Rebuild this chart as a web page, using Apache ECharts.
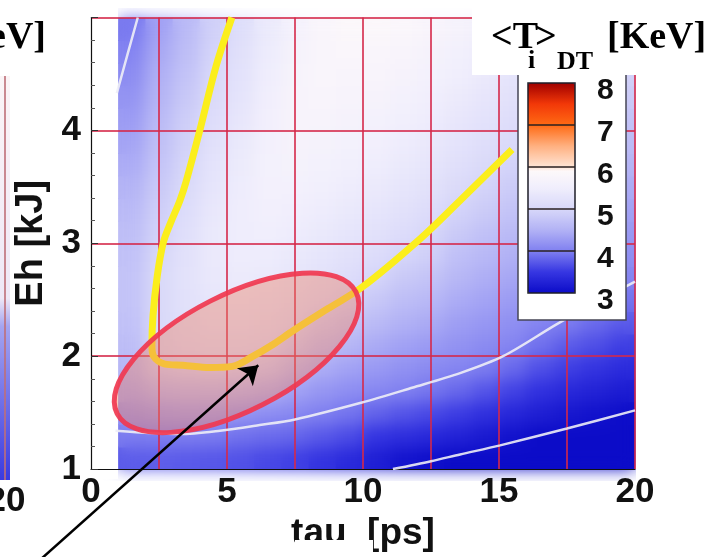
<!DOCTYPE html>
<html><head><meta charset="utf-8">
<script src="https://cdn.jsdelivr.net/npm/echarts@6/dist/echarts.min.js"></script>
<style>html,body{margin:0;padding:0;background:#fff}#c{width:710px;height:557px}</style>
</head><body><div id="c"></div>
<script>
// ---- data ----
const tauCells = [1.5,2.5,3.5,4.5,5.5,6.5,7.5,8.5,9.5,10.5,11.5,12.5,13.5,14.5,15.5,16.5,17.5,18.5,19.5];
const ehCells = [1.1,1.3,1.5,1.7,1.9,2.1,2.3,2.5,2.7,2.9,3.1,3.3,3.5,3.7,3.9,4.1,4.3,4.5,4.7,4.9];
// <Ti>DT [keV], one row per Eh cell, one value per tau cell
const tempRows = [
 [3.76,3.77,3.74,3.72,3.68,3.62,3.57,3.47,3.36,3.23,3.10,3.04,2.98,2.90,2.84,2.74,2.68,2.62,2.56],
 [3.97,3.98,3.97,3.96,3.90,3.86,3.82,3.73,3.64,3.48,3.40,3.34,3.26,3.16,3.08,3.00,2.93,2.86,2.79],
 [4.20,4.27,4.30,4.29,4.22,4.14,4.08,4.00,3.92,3.80,3.70,3.63,3.54,3.43,3.33,3.22,3.14,3.08,3.02],
 [4.42,4.58,4.62,4.63,4.58,4.48,4.34,4.22,4.14,4.07,4.01,3.93,3.83,3.70,3.58,3.44,3.35,3.27,3.20],
 [4.56,4.89,4.95,4.97,4.95,4.83,4.60,4.44,4.34,4.25,4.17,4.10,4.05,3.97,3.84,3.67,3.56,3.47,3.38],
 [4.65,5.00,5.10,5.13,5.13,5.08,4.87,4.67,4.55,4.42,4.33,4.26,4.18,4.11,4.04,3.89,3.76,3.66,3.56],
 [4.70,5.02,5.17,5.24,5.25,5.20,5.08,4.89,4.75,4.60,4.49,4.42,4.30,4.23,4.15,4.05,3.97,3.86,3.74],
 [4.72,5.03,5.21,5.32,5.34,5.30,5.20,5.08,4.95,4.78,4.65,4.58,4.43,4.35,4.27,4.16,4.09,4.03,3.92],
 [4.72,5.02,5.22,5.37,5.41,5.38,5.30,5.20,5.10,4.95,4.80,4.73,4.56,4.46,4.38,4.27,4.19,4.13,4.05],
 [4.70,4.99,5.20,5.39,5.45,5.45,5.38,5.30,5.20,5.10,4.96,4.88,4.68,4.58,4.49,4.39,4.30,4.23,4.15],
 [4.66,4.93,5.16,5.38,5.48,5.50,5.45,5.38,5.30,5.20,5.10,4.97,4.81,4.70,4.60,4.50,4.40,4.33,4.25],
 [4.60,4.87,5.11,5.35,5.48,5.55,5.52,5.46,5.38,5.30,5.20,5.10,4.94,4.82,4.72,4.61,4.51,4.43,4.34],
 [4.52,4.80,5.05,5.30,5.46,5.58,5.58,5.53,5.46,5.39,5.30,5.20,5.06,4.94,4.83,4.72,4.61,4.53,4.44],
 [4.44,4.74,4.98,5.24,5.42,5.60,5.63,5.59,5.53,5.47,5.38,5.29,5.16,5.05,4.94,4.83,4.71,4.63,4.54],
 [4.36,4.67,4.92,5.18,5.38,5.58,5.67,5.65,5.60,5.54,5.46,5.37,5.25,5.14,5.04,4.94,4.82,4.73,4.63],
 [4.28,4.60,4.86,5.12,5.33,5.55,5.70,5.70,5.66,5.61,5.53,5.45,5.33,5.23,5.12,5.04,4.92,4.83,4.72],
 [4.20,4.53,4.79,5.06,5.28,5.52,5.70,5.74,5.71,5.67,5.60,5.52,5.41,5.31,5.20,5.12,5.03,4.93,4.82],
 [4.12,4.47,4.72,5.00,5.23,5.48,5.68,5.77,5.76,5.73,5.67,5.59,5.49,5.39,5.27,5.19,5.10,5.02,4.91],
 [4.04,4.40,4.66,4.95,5.18,5.44,5.65,5.78,5.80,5.78,5.73,5.66,5.57,5.46,5.34,5.26,5.17,5.09,5.00],
 [3.96,4.33,4.60,4.90,5.13,5.40,5.62,5.77,5.83,5.83,5.80,5.73,5.64,5.53,5.41,5.32,5.23,5.15,5.07]
];
// contour lines [tau, Eh]
const yellowContour5 = [[5.18,5.0],[4.6,4.57],[4.0,4.0],[3.5,3.55],[3.27,3.38],[2.94,3.19],[2.65,3.0],[2.43,2.7],[2.28,2.36],[2.24,2.1],[2.3,2.0],[2.72,1.93],[3.38,1.92],[4.37,1.9],[5.2,1.91],[5.96,2.0],[6.6,2.09],[7.46,2.23],[8.7,2.42],[9.96,2.61],[12.1,3.04],[13.57,3.38],[15.48,3.83]];
const whiteContour4 = [[0.9,1.34],[2.17,1.32],[3.27,1.31],[4.74,1.34],[6.2,1.39],[7.5,1.44],[9.96,1.59],[11.8,1.72],[13.57,1.85],[15.15,2.0],[17.24,2.3],[20,2.66]];
const whiteContour4Top = [[0.95,4.33],[1.35,4.68],[1.72,5.0]];
const whiteContour3 = [[11.1,1.0],[12.5,1.07],[13.57,1.13],[15.04,1.21],[17.5,1.36],[20,1.52]];
const contourLabelPos = [[3.5,3.55],[11.07,2.84],[3.64,1.98],[6.2,1.37],[17.5,2.3],[13.1,1.1]];
const contourLabelText = ['5','5','5','4','4','3'];
const ellipseCenter = [5.35, 2.03];
const arrowCoords = [[-1.9,0.19],[6.15,1.92]];
const colorbarTicks = [3,4,5,6,7,8];

// ---- colour scale ----
const cmapStops = [[3.0,'#0c0cc8'],[3.5,'#3636e2'],[4.0,'#8080f0'],[4.5,'#b2b2f5'],[5.0,'#d8d8f9'],[5.5,'#f0eefc'],[5.9,'#fdf8fa'],[6.0,'#ffe4d4'],[6.5,'#ffb080'],[7.0,'#ff6a14'],[7.5,'#f23808'],[8.0,'#a00000']];
function hex2rgb(h){return [parseInt(h.substr(1,2),16),parseInt(h.substr(3,2),16),parseInt(h.substr(5,2),16)];}
function cmap(v){
  if (v<=cmapStops[0][0]) return cmapStops[0][1];
  for (let k=1;k<cmapStops.length;k++){
    if (v<=cmapStops[k][0]){
      const a=cmapStops[k-1], b=cmapStops[k], f=(v-a[0])/(b[0]-a[0]);
      const ca=hex2rgb(a[1]), cb=hex2rgb(b[1]);
      return 'rgb('+ca.map((c,i)=>Math.round(c+(cb[i]-c)*f)).join(',')+')';
    }
  }
  return cmapStops[cmapStops.length-1][1];
}
const vmColors=[]; for(let k=0;k<=100;k++) vmColors.push(cmap(3+k*0.05));

const heatData=[];
ehCells.forEach((eh,j)=>tauCells.forEach((tau,i)=>heatData.push([tau,eh,tempRows[j][i]])));
const dTau=tauCells[1]-tauCells[0], dEh=ehCells[1]-ehCells[0];

const sansBold='"Liberation Sans", Arial, Helvetica, sans-serif';
const serif='"Liberation Serif", "Times New Roman", serif';
const labelStyles=[
 {rotate:75,color:'#262636'},
 {rotate:45,color:'#262636'},
 {rotate:0,color:'#262636'},
 {rotate:0,color:'#111',backgroundColor:'#ffffff',padding:[1,3]},
 {rotate:30,color:'#111',backgroundColor:'#ffffff',padding:[1,3]},
 {rotate:15,color:'#ffffff',textBorderColor:'#203070',textBorderWidth:2,backgroundColor:'rgba(255,255,255,0.55)',padding:[0,2]}
];
const gridRed={color:'rgba(212,40,74,0.8)',width:2};
const whiteLine={color:'rgba(238,238,246,0.9)',width:2.5};
const TOP=2; // zlevel for everything drawn above the heat map

function heatRender(params,api){
  const t=api.value(0),e=api.value(1);
  const p0=api.coord([t-dTau/2,e+dEh/2]), p1=api.coord([t+dTau/2,e-dEh/2]);
  return {type:'rect',shape:{x:p0[0],y:p0[1],width:p1[0]-p0[0]+1,height:p1[1]-p0[1]+1},style:{fill:api.visual('color')}};
}

const chart=echarts.init(document.getElementById('c'));
chart.setOption({
 animation:false,
 grid:[{left:91,top:8,width:544,height:472,show:false,zlevel:TOP},
       {left:528,top:83,width:47,height:210,show:true,borderColor:'#1e1e28',borderWidth:1.5,backgroundColor:'transparent',z:12,zlevel:TOP}],
 xAxis:[{type:'value',gridIndex:0,min:0,max:20,interval:2.5,z:2,zlevel:TOP,
   axisLine:{show:true,onZero:false,lineStyle:{color:'#111',width:1.2}},
   axisTick:{show:false},
   axisLabel:{formatter:v=>v%5===0?String(v):'',fontSize:35,fontWeight:'bold',color:'#111',margin:6,fontFamily:sansBold},
   splitLine:{show:true,showMinLine:false,lineStyle:gridRed},
   name:'tau  [ps]',nameLocation:'middle',nameGap:34,
   nameTextStyle:{fontSize:37,fontWeight:'bold',color:'#111',fontFamily:sansBold}},
  {type:'value',gridIndex:1,show:false,min:0,max:1,zlevel:TOP}],
 yAxis:[{type:'value',gridIndex:0,min:1,max:5,interval:1,z:2,zlevel:TOP,
   axisLine:{show:true,onZero:false,lineStyle:{color:'#111',width:1.2}},
   axisTick:{show:true,inside:true,length:7,lineStyle:{color:'#333'}},
   minorTick:{show:true,splitNumber:5,length:4,lineStyle:{color:'#555'}},
   axisLabel:{fontSize:35,fontWeight:'bold',color:'#111',margin:10,fontFamily:sansBold},
   splitLine:{show:true,showMinLine:false,lineStyle:gridRed},
   name:'Eh [kJ]',nameLocation:'middle',nameRotate:90,nameGap:40,
   nameTextStyle:{fontSize:38,fontWeight:'bold',color:'#111',fontFamily:sansBold}},
  {type:'value',gridIndex:1,min:3,max:8,interval:1,position:'right',z:12,zlevel:TOP,
   axisLine:{show:false},axisTick:{show:false},
   axisLabel:{fontSize:30,fontWeight:'bold',color:'#111',margin:22,verticalAlign:'top',lineHeight:16,fontFamily:sansBold,
     formatter:v=>colorbarTicks.indexOf(v)>=0?String(v):''},
   splitLine:{show:true,showMinLine:false,showMaxLine:false,lineStyle:{color:'#2a2020',width:1.5}}}],
 visualMap:{type:'continuous',min:3,max:8,dimension:2,seriesIndex:[0,1],calculable:false,hoverLink:false,
   inRange:{color:vmColors},outOfRange:{color:'#0c0cc8'},
   show:true,left:528,top:83,itemWidth:47,itemHeight:210,padding:0,z:11,zlevel:TOP,textStyle:{fontSize:1,color:'transparent'}},
 series:[
  {type:'custom',name:'Ti',zlevel:0,z:1,clip:true,silent:true,data:heatData,dimensions:['tau','eh','T'],encode:{x:0,y:1},renderItem:heatRender},
  {type:'custom',name:'Ti-soft',zlevel:1,z:1,clip:true,silent:true,data:heatData,dimensions:['tau','eh','T'],encode:{x:0,y:1},renderItem:heatRender},
  {type:'line',zlevel:TOP,z:3,silent:true,data:whiteContour4,symbol:'none',smooth:0.3,lineStyle:whiteLine},
  {type:'line',zlevel:TOP,z:3,silent:true,data:whiteContour4Top,symbol:'none',smooth:0.3,lineStyle:whiteLine},
  {type:'line',zlevel:TOP,z:3,silent:true,data:whiteContour3,symbol:'none',smooth:0.3,lineStyle:whiteLine},
  {type:'line',zlevel:TOP,z:4,silent:true,data:yellowContour5,symbol:'none',smooth:0.35,lineStyle:{color:'#fbee1c',width:7}},
  {type:'scatter',zlevel:TOP,z:5,silent:true,symbolSize:1,itemStyle:{opacity:0},
   data:contourLabelPos.map((p,k)=>({value:p,label:labelStyles[k]})),
   label:{show:true,position:'inside',fontSize:24,fontWeight:'bold',fontFamily:sansBold,
     formatter:p=>contourLabelText[p.dataIndex]}},
  {type:'custom',zlevel:TOP,z:6,silent:true,data:[ellipseCenter],
   renderItem:(params,api)=>{
     const c=api.coord([api.value(0),api.value(1)]);
     return {type:'ellipse',x:c[0],y:c[1],rotation:27*Math.PI/180,shape:{cx:0,cy:0,rx:134,ry:58},
       style:{fill:'rgba(235,128,100,0.42)',stroke:'rgba(240,56,80,0.92)',lineWidth:5}};
   }},
  {type:'lines',coordinateSystem:'cartesian2d',zlevel:TOP,z:7,silent:true,clip:false,
   symbol:['none','arrow'],symbolSize:18,
   lineStyle:{color:'#000',width:2.5,opacity:1,curveness:0},
   data:[{coords:arrowCoords}]}
 ],
 graphic:[
  // white masks around the softened heat-map layer
  {type:'rect',zlevel:TOP,z:0,shape:{x:92,y:0,width:26,height:479},style:{fill:'#fff'}},
  {type:'rect',zlevel:TOP,z:0,shape:{x:92,y:0,width:560,height:8},style:{fill:'#fff'}},
  {type:'rect',zlevel:TOP,z:0,shape:{x:92,y:481,width:560,height:20},style:{fill:'#fff'}},
  {type:'rect',zlevel:TOP,z:0,shape:{x:636,y:0,width:20,height:500},style:{fill:'#fff'}},
  // neighbouring panel fragments
  {type:'rect',zlevel:TOP,z:1,shape:{x:0,y:76,width:10,height:404},style:{fill:new echarts.graphic.LinearGradient(0,0,0,1,[{offset:0,color:'#fbf4f6'},{offset:0.55,color:'#eee8f6'},{offset:0.62,color:'#a4a4f0'},{offset:1,color:'#3a3ae0'}])}},
  {type:'line',zlevel:TOP,z:2,shape:{x1:5,y1:76,x2:5,y2:480},style:{stroke:'rgba(190,110,120,0.8)',lineWidth:2}},
  {type:'text',zlevel:TOP,z:2,x:6,y:501,style:{text:'20',font:'bold 35px '+sansBold,fill:'#111',textAlign:'center',textVerticalAlign:'middle',align:'center',verticalAlign:'middle'}},
  // colour-bar frame
  {type:'rect',zlevel:TOP,z:10,shape:{x:518,y:55,width:108,height:265},style:{fill:'#fff',stroke:'#454556',lineWidth:1.5}},
  // title boxes
  {type:'rect',zlevel:TOP,z:20,shape:{x:0,y:0,width:83,height:75},style:{fill:'#fff'}},
  {type:'text',zlevel:TOP,z:21,x:46,y:38,style:{text:'eV]',font:'bold 38px '+serif,fill:'#000',textAlign:'right',textVerticalAlign:'middle',align:'right',verticalAlign:'middle'}},
  {type:'rect',zlevel:TOP,z:20,shape:{x:472,y:0,width:238,height:75},style:{fill:'#fff'}},
  {type:'text',zlevel:TOP,z:21,x:491,y:38,style:{text:'<T',font:'bold 38px '+serif,fill:'#000',textVerticalAlign:'middle',verticalAlign:'middle'}},
  {type:'text',zlevel:TOP,z:21,x:528,y:61,style:{text:'i',font:'bold 26px '+serif,fill:'#000',textVerticalAlign:'middle',verticalAlign:'middle'}},
  {type:'text',zlevel:TOP,z:21,x:535,y:38,style:{text:'>',font:'bold 38px '+serif,fill:'#000',textVerticalAlign:'middle',verticalAlign:'middle'}},
  {type:'text',zlevel:TOP,z:21,x:557,y:62,style:{text:'DT',font:'bold 26px '+serif,fill:'#000',textVerticalAlign:'middle',verticalAlign:'middle'}},
  {type:'text',zlevel:TOP,z:21,x:607,y:38,style:{text:'[KeV]',font:'bold 38px '+serif,fill:'#000',textVerticalAlign:'middle',verticalAlign:'middle'}},
  {type:'rect',zlevel:TOP,z:20,shape:{x:295,y:540,width:78,height:17},style:{fill:'#fff'}}
 ]
});
function softenHeat(){
  const layer=chart.getZr().painter.getLayer && chart.getZr().painter.getLayer(1);
  if (layer && layer.dom) layer.dom.style.filter='blur(8px)';
}
softenHeat();
chart.on('finished',softenHeat);
</script></body></html>
